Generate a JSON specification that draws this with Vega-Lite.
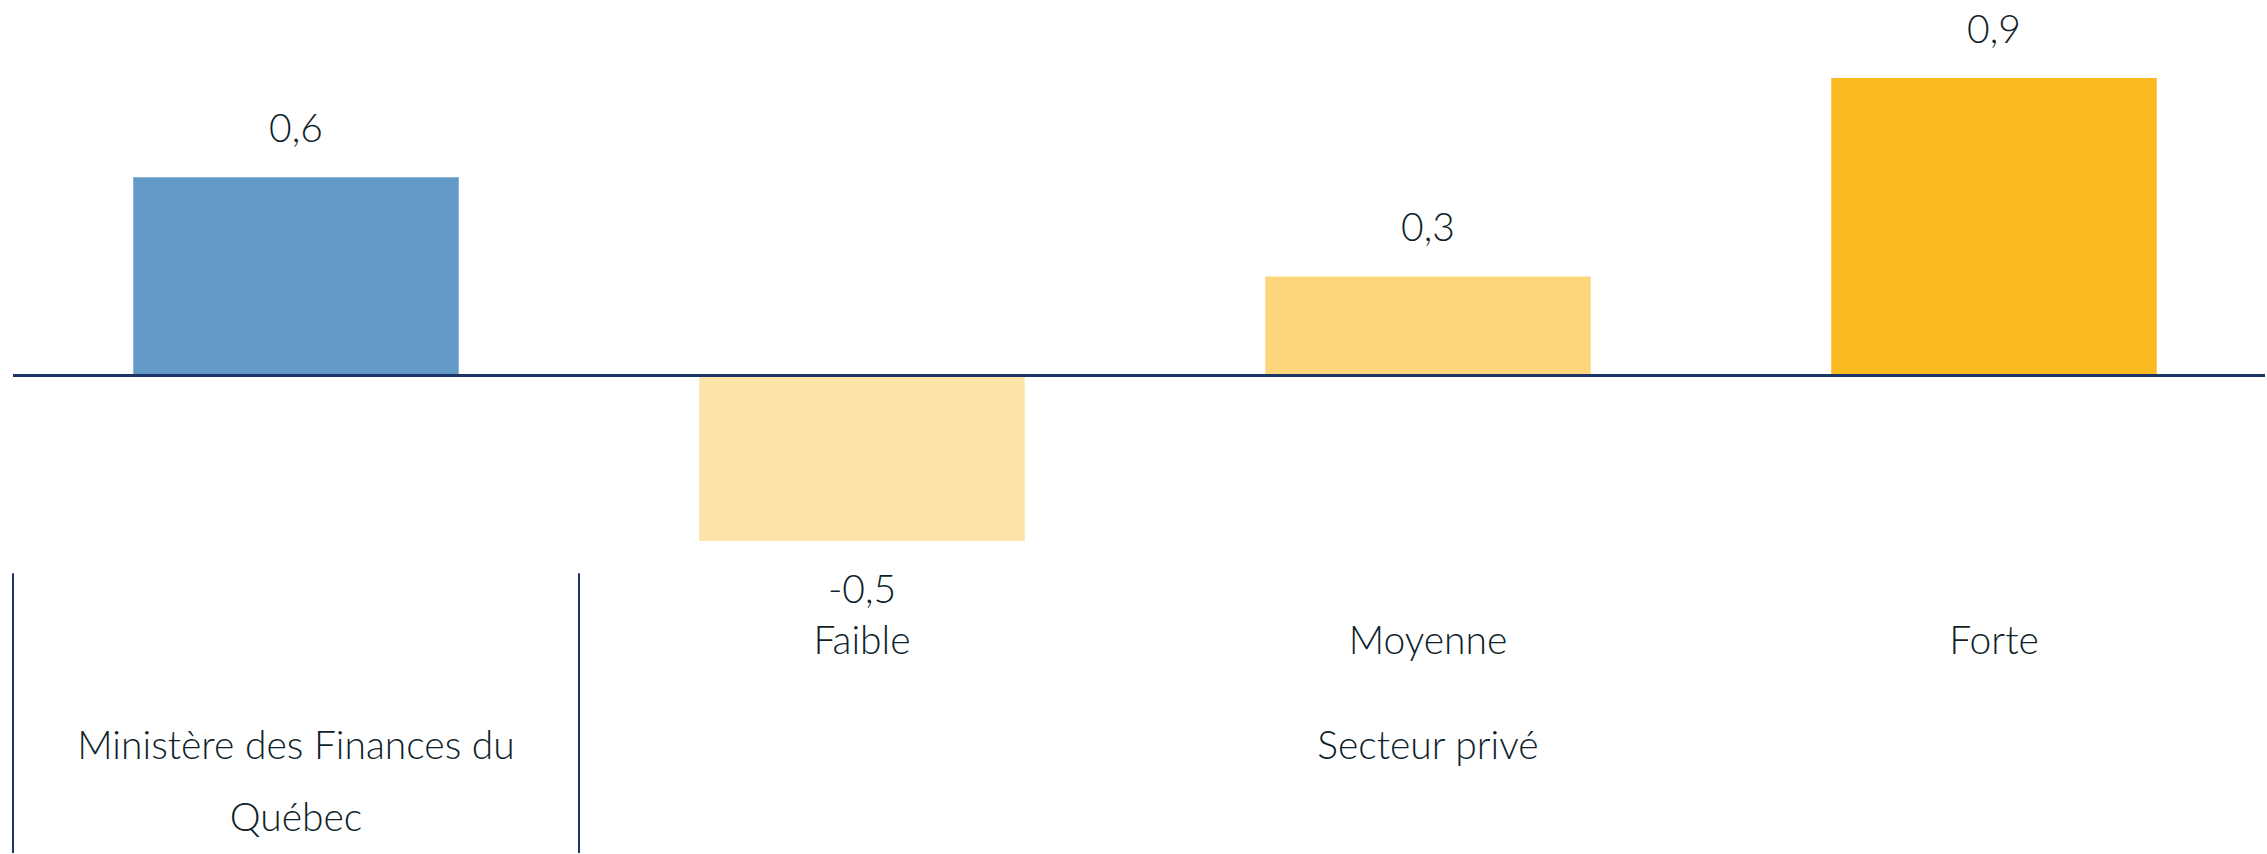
{
  "$schema": "https://vega.github.io/schema/vega-lite/v6.json",
  "autosize": {"type": "fit", "contains": "padding"},
  "width": 2267,
  "height": 854,
  "padding": {"left": 11, "right": 0, "top": 0, "bottom": 0},
  "background": "white",
  "config": {"view": {"stroke": null}, "text": {"font": "Lato", "fontWeight": 300, "fontSize": 39, "color": "#0f1f2b"}},
  "datasets": {
    "bars": [
      {"cat": "Ministère des Finances du Québec", "value": 0.6, "label": "0,6"},
      {"cat": "Faible", "value": -0.5, "label": "-0,5"},
      {"cat": "Moyenne", "value": 0.3, "label": "0,3"},
      {"cat": "Forte", "value": 0.9, "label": "0,9"}
    ],
    "groups": [
      {"group": "Ministère des Finances du\nQuébec", "at": "Ministère des Finances du Québec"},
      {"group": "Secteur privé", "at": "Moyenne"}
    ],
    "seps": [
      {"at": "Ministère des Finances du Québec"},
      {"at": "Faible"}
    ]
  },
  "data": {"name": "bars"},
  "encoding": {
    "x": {"field": "cat", "type": "nominal", "sort": null, "axis": null,
          "scale": {"domain": ["Ministère des Finances du Québec", "Faible", "Moyenne", "Forte"], "range": [0, 2264], "paddingInner": 0, "paddingOuter": 0}}
  },
  "layer": [
    {
      "mark": {"type": "bar", "width": {"band": 0.575}},
      "encoding": {
        "y": {"field": "value", "type": "quantitative", "axis": null, "scale": {"domain": [-1.444, 1.136], "nice": false, "zero": false}},
        "color": {"field": "cat", "type": "nominal", "legend": null,
                  "scale": {"domain": ["Ministère des Finances du Québec", "Faible", "Moyenne", "Forte"], "range": ["#6399c7", "#fce3a7", "#fdd67b", "#f9b91f"]}}
      }
    },
    {
      "mark": {"type": "rule", "color": "#1b3566", "strokeWidth": 2.5},
      "encoding": {"x": null, "y": {"datum": 0}}
    },
    {
      "transform": [{"filter": "datum.value >= 0"}],
      "mark": {"type": "text", "baseline": "alphabetic", "dy": -35},
      "encoding": {"y": {"field": "value", "type": "quantitative"}, "text": {"field": "label"}}
    },
    {
      "transform": [{"filter": "datum.value < 0"}],
      "mark": {"type": "text", "baseline": "alphabetic", "dy": 62},
      "encoding": {"y": {"field": "value", "type": "quantitative"}, "text": {"field": "label"}}
    },
    {
      "transform": [{"filter": "datum.cat != 'Ministère des Finances du Québec'"}],
      "mark": {"type": "text", "baseline": "alphabetic"},
      "encoding": {"y": {"datum": -0.843}, "text": {"field": "cat"}}
    },
    {
      "data": {"name": "groups"},
      "mark": {"type": "text", "baseline": "alphabetic", "lineBreak": "\n", "lineHeight": 72},
      "encoding": {"x": {"field": "at", "type": "nominal"}, "y": {"datum": -1.16}, "text": {"field": "group"}}
    },
    {
      "data": {"name": "seps"},
      "mark": {"type": "rule", "color": "#1d3270", "strokeWidth": 2},
      "encoding": {"x": {"field": "at", "type": "nominal", "bandPosition": 0}, "y": {"datum": -0.598}, "y2": {"datum": -1.444}}
    }
  ]
}
